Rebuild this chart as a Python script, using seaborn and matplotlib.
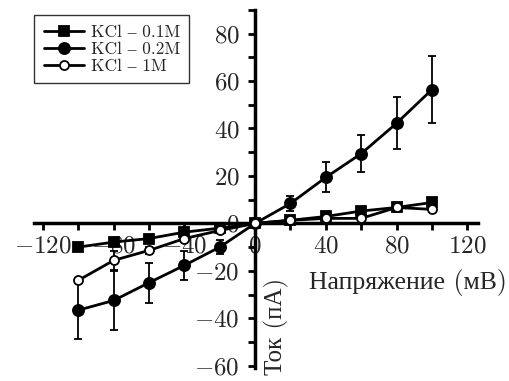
import numpy as np
import pandas as pd
import matplotlib
matplotlib.use('Agg')
import matplotlib.pyplot as plt
from matplotlib.ticker import MultipleLocator
import seaborn as sns

# Voltage steps (mV)
voltage = [-100, -80, -60, -40, -20, 0, 20, 40, 60, 80, 100]

# Mean current (pA) and error for each KCl concentration
kcl_01_mean = [-10.0, -7.9, -6.4, -3.7, -2.0, 0.0, 1.3, 2.9, 5.2, 6.7, 8.8]
kcl_01_err = [1.0, 1.0, 1.0, 1.0, 1.0, 0.5, 0.8, 0.8, 0.8, 0.8, 1.0]

kcl_02_mean = [-36.6, -32.5, -25.0, -17.7, -10.0, 0.0, 8.4, 19.4, 29.4, 42.2, 56.4]
kcl_02_err = [12.0, 12.5, 8.5, 6.0, 3.0, 0.5, 3.3, 6.3, 7.8, 11.0, 14.0]

kcl_1_mean = [-24.0, -15.6, -11.4, -6.4, -3.0, 0.0, 1.3, 2.1, 2.1, 6.7, 5.9]
kcl_1_err = [1.0, 4.0, 1.5, 1.0, 1.0, 0.5, 0.8, 0.8, 0.8, 0.8, 0.8]

series_names = ['KCl – 0.1M', 'KCl – 0.2M', 'KCl – 1M']

sns.set_style('white')
plt.rcParams['font.family'] = ['cmr10', 'Liberation Serif']
plt.rcParams['mathtext.fontset'] = 'cm'
plt.rcParams['axes.formatter.use_mathtext'] = True

df = pd.concat([
    pd.DataFrame({'V': voltage, 'I': kcl_01_mean, 'err': kcl_01_err, 'series': series_names[0]}),
    pd.DataFrame({'V': voltage, 'I': kcl_02_mean, 'err': kcl_02_err, 'series': series_names[1]}),
    pd.DataFrame({'V': voltage, 'I': kcl_1_mean, 'err': kcl_1_err, 'series': series_names[2]}),
])

styles = {
    series_names[0]: dict(marker='s', mfc='black', ms=6.5),
    series_names[1]: dict(marker='o', mfc='black', ms=8),
    series_names[2]: dict(marker='o', mfc='white', ms=6.5),
}

fig = plt.figure(figsize=(5.1, 3.81), dpi=100)
ax = fig.add_axes([0.067, 0.034, 0.870, 0.940])

for name in series_names:
    sub = df[df['series'] == name]
    ax.errorbar(sub['V'], sub['I'], yerr=sub['err'], fmt='none',
                ecolor='black', elinewidth=1.3, capsize=3, capthick=1.3, zorder=2)
    st = styles[name]
    sns.lineplot(data=sub, x='V', y='I', ax=ax, color='black', linewidth=2,
                 marker=st['marker'], markersize=st['ms'],
                 markerfacecolor=st['mfc'], markeredgecolor='black',
                 markeredgewidth=1.3, label=name, zorder=3)

ax.set_xlim(-125, 126)
ax.set_ylim(-61, 90)

for side in ['top', 'right']:
    ax.spines[side].set_visible(False)
for side in ['left', 'bottom']:
    ax.spines[side].set_position(('data', 0))
    ax.spines[side].set_linewidth(2.5)
    ax.spines[side].set_color('black')

ax.xaxis.set_major_locator(MultipleLocator(40))
ax.xaxis.set_minor_locator(MultipleLocator(20))
ax.yaxis.set_major_locator(MultipleLocator(20))
ax.yaxis.set_minor_locator(MultipleLocator(10))
ax.tick_params(which='both', direction='out', width=2, length=5,
               color='black', labelsize=18, bottom=True, left=True)
ax.tick_params(axis='x', pad=4)
ax.tick_params(axis='y', pad=6)

ax.set_xlabel('Напряжение (мВ)', fontsize=18.5)
ax.xaxis.set_label_coords(0.842, 0.24)
ax.xaxis.label.set(ha='center', va='center')

ax.set_ylabel('Ток (пА)', fontsize=18)
ax.yaxis.set_label_coords(0.545, 0.115)
ax.yaxis.label.set(ha='center', va='center', rotation_mode='default')

leg = ax.legend(loc='upper left', bbox_to_anchor=(0.0, 0.985), fontsize=12.5,
                frameon=True, fancybox=False, edgecolor='black',
                handlelength=2.3, handletextpad=0.4, borderpad=0.55,
                labelspacing=0.08, borderaxespad=0.0)
leg.get_frame().set_linewidth(1.0)

fig.savefig('out.png', dpi=100)
